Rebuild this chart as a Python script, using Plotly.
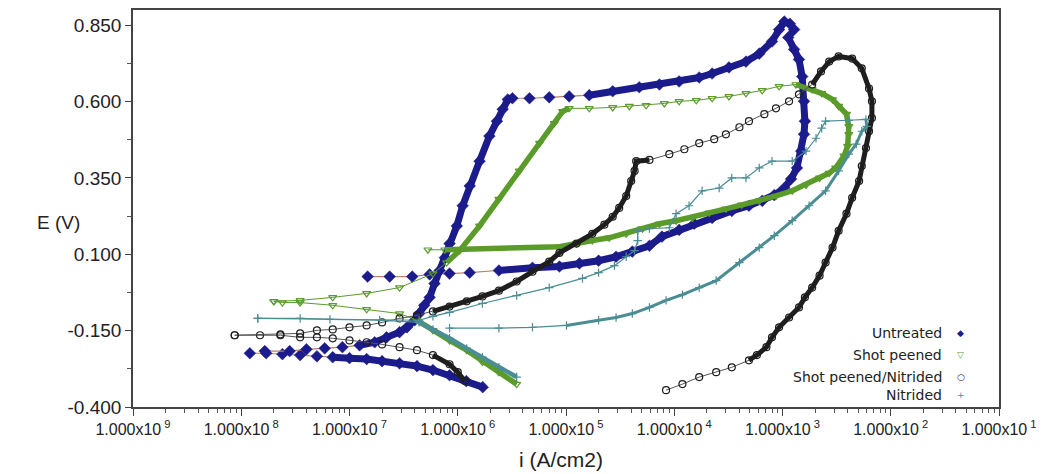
import plotly.graph_objects as go

# ---------------- data (current density i in A/cm2, potential E in V) ----------------
untreated_cath_i = [1.7e-6, 1.2e-6, 8.4e-7, 5.9e-7, 4.2e-7, 2.9e-7, 2.0e-7, 1.44e-7, 1.0e-7, 7.0e-8,
                    5.0e-8, 3.5e-8, 2.4e-8, 1.7e-8, 1.2e-8]
untreated_cath_E = [-0.335, -0.315, -0.296, -0.279, -0.266, -0.257, -0.250, -0.243, -0.240, -0.237,
                    -0.234, -0.230, -0.227, -0.224, -0.224]

untreated_anod_i = [1.65e-8, 2.8e-8, 4.0e-8, 5.9e-8, 8.6e-8, 1.24e-7, 1.71e-7, 2.2e-7, 2.9e-7, 3.4e-7,
                    4.0e-7, 4.4e-7, 4.9e-7, 5.5e-7, 6.1e-7, 6.8e-7, 7.6e-7, 8.4e-7, 9.8e-7, 1.11e-6,
                    1.29e-6, 1.59e-6, 1.96e-6, 2.3e-6, 2.6e-6, 2.9e-6, 3.2e-6, 4.6e-6, 7.0e-6, 1.07e-5,
                    1.64e-5, 2.7e-5, 4.75e-5, 7.3e-5, 1.11e-4, 1.70e-4, 2.24e-4, 3.2e-4, 4.6e-4, 6.1e-4,
                    8.0e-4, 9.3e-4, 1.04e-3, 1.17e-3, 1.28e-3, 1.13e-3, 1.28e-3, 1.42e-3, 1.52e-3, 1.58e-3,
                    1.61e-3, 1.58e-3, 1.49e-3, 1.36e-3, 1.20e-3, 1.04e-3, 8.4e-4, 6.5e-4, 4.9e-4, 3.4e-4,
                    2.24e-4, 1.53e-4, 1.11e-4, 7.7e-5, 5.9e-5, 4.1e-5, 2.9e-5, 2.0e-5, 1.33e-5, 8.7e-6,
                    4.9e-6, 2.4e-6, 1.29e-6, 8.4e-7, 5.5e-7, 3.8e-7, 2.35e-7, 1.47e-7]
untreated_anod_E = [-0.217, -0.217, -0.211, -0.208, -0.204, -0.198, -0.188, -0.172, -0.155, -0.139,
                    -0.116, -0.094, -0.067, -0.041, 0.004, 0.047, 0.089, 0.135, 0.193, 0.259,
                    0.324, 0.405, 0.487, 0.536, 0.575, 0.607, 0.611, 0.611, 0.614, 0.617,
                    0.621, 0.634, 0.647, 0.656, 0.666, 0.679, 0.692, 0.712, 0.731, 0.757,
                    0.797, 0.836, 0.862, 0.855, 0.836, 0.810, 0.771, 0.738, 0.682, 0.601,
                    0.536, 0.493, 0.438, 0.383, 0.347, 0.317, 0.294, 0.275, 0.259, 0.242,
                    0.219, 0.200, 0.180, 0.158, 0.128, 0.109, 0.092, 0.079, 0.070, 0.060,
                    0.056, 0.047, 0.040, 0.037, 0.034, 0.027, 0.027, 0.027]

shotpeened_cath_i = [3.5e-6, 2.4e-6, 1.69e-6, 1.21e-6, 8.4e-7, 5.9e-7, 4.2e-7, 2.9e-7, 1.44e-7, 7.0e-8,
                     3.5e-8, 2.4e-8, 2.0e-8]
shotpeened_cath_E = [-0.325, -0.286, -0.253, -0.214, -0.182, -0.149, -0.116, -0.094, -0.080, -0.067,
                     -0.058, -0.058, -0.054]

shotpeened_anod_i = [2.0e-8, 3.5e-8, 7.0e-8, 1.44e-7, 2.9e-7, 5.9e-7, 7.9e-7, 1.04e-6, 1.59e-6, 2.4e-6,
                     3.7e-6, 5.7e-6, 7.8e-6, 9.3e-6, 1.07e-5, 1.64e-5, 2.7e-5, 3.85e-5, 5.5e-5, 8.1e-5,
                     1.11e-4, 1.60e-4, 2.24e-4, 3.2e-4, 4.6e-4, 6.5e-4, 9.3e-4, 1.33e-3, 1.88e-3, 2.3e-3,
                     2.9e-3, 3.3e-3, 3.9e-3, 4.1e-3, 4.1e-3, 4.0e-3, 3.7e-3, 3.1e-3, 2.7e-3, 2.2e-3,
                     1.65e-3, 1.23e-3, 8.7e-4, 6.1e-4, 4.2e-4, 3.0e-4, 2.1e-4, 1.47e-4, 1.04e-4, 7.3e-5,
                     5.1e-5, 3.6e-5, 2.5e-5, 1.75e-5, 1.25e-5, 8.7e-6, 7.6e-7, 5.3e-7]
shotpeened_anod_E = [-0.054, -0.051, -0.041, -0.028, -0.009, 0.037, 0.073, 0.112, 0.193, 0.281,
                     0.373, 0.464, 0.529, 0.568, 0.578, 0.578, 0.581, 0.585, 0.588, 0.594,
                     0.601, 0.604, 0.611, 0.617, 0.627, 0.637, 0.650, 0.656, 0.640, 0.627,
                     0.607, 0.585, 0.559, 0.519, 0.493, 0.454, 0.422, 0.383, 0.366, 0.350,
                     0.327, 0.308, 0.291, 0.275, 0.262, 0.249, 0.236, 0.219, 0.210, 0.200,
                     0.184, 0.167, 0.154, 0.145, 0.135, 0.125, 0.115, 0.115]

spn_cath_i = [1.16e-6, 1.0e-6, 8.4e-7, 5.9e-7, 4.2e-7, 2.9e-7, 2.0e-7, 1.44e-7, 1.0e-7, 7.0e-8,
              5.0e-8, 3.5e-8, 2.3e-8, 1.49e-8, 8.7e-9]
spn_cath_E = [-0.315, -0.286, -0.260, -0.230, -0.214, -0.204, -0.195, -0.188, -0.182, -0.175,
              -0.172, -0.172, -0.165, -0.165, -0.165]

spn_anod_i = [8.7e-9, 2.3e-8, 3.5e-8, 5.0e-8, 7.0e-8, 1.0e-7, 1.44e-7, 2.0e-7, 2.9e-7, 4.2e-7,
              5.9e-7, 8.4e-7, 1.21e-6, 1.69e-6, 2.4e-6, 3.5e-6, 4.9e-6, 7.0e-6, 8.7e-6, 1.25e-5,
              1.75e-5, 2.26e-5, 2.7e-5, 3.1e-5, 3.6e-5, 4.0e-5, 4.3e-5, 4.45e-5, 5.9e-5, 9.0e-5,
              1.24e-4, 1.70e-4, 2.34e-4, 3.0e-4, 4.0e-4, 4.9e-4, 6.8e-4, 8.7e-4, 1.15e-3, 1.42e-3,
              1.88e-3, 2.27e-3, 2.7e-3, 3.3e-3, 4.4e-3, 5.4e-3, 6.3e-3, 6.7e-3, 6.7e-3, 6.3e-3,
              5.9e-3, 5.4e-3, 5.1e-3, 4.4e-3, 3.9e-3, 3.3e-3, 2.9e-3, 2.5e-3, 2.2e-3, 1.88e-3,
              1.61e-3, 1.42e-3, 1.15e-3, 9.3e-4, 8.0e-4, 7.1e-4, 5.8e-4, 4.9e-4, 3.4e-4, 2.44e-4,
              1.70e-4, 1.19e-4, 8.4e-5]
spn_anod_E = [-0.165, -0.162, -0.159, -0.149, -0.146, -0.139, -0.133, -0.123, -0.110, -0.100,
              -0.087, -0.071, -0.054, -0.038, -0.019, 0.011, 0.043, 0.076, 0.105, 0.135,
              0.167, 0.197, 0.223, 0.252, 0.291, 0.340, 0.373, 0.405, 0.409, 0.428,
              0.444, 0.464, 0.477, 0.493, 0.516, 0.536, 0.559, 0.578, 0.601, 0.624,
              0.656, 0.699, 0.731, 0.748, 0.741, 0.709, 0.643, 0.601, 0.546, 0.503,
              0.448, 0.389, 0.340, 0.285, 0.233, 0.177, 0.122, 0.073, 0.030, -0.009,
              -0.041, -0.074, -0.107, -0.139, -0.172, -0.204, -0.230, -0.247, -0.270, -0.286,
              -0.302, -0.325, -0.345]

nitrided_cath_i = [3.5e-6, 2.4e-6, 1.69e-6, 1.21e-6, 8.4e-7, 5.9e-7, 4.4e-7, 1.9e-7, 6.6e-8, 3.5e-8,
                   1.42e-8]
nitrided_cath_E = [-0.302, -0.270, -0.237, -0.208, -0.175, -0.146, -0.123, -0.116, -0.113, -0.110,
                   -0.110]

nitrided_anod_i = [1.42e-8, 4.4e-7, 5.9e-7, 8.4e-7, 1.69e-6, 3.5e-6, 7.0e-6, 1.42e-5, 2.0e-5, 2.8e-5,
                   3.6e-5, 4.3e-5, 4.6e-5, 4.6e-5, 5.9e-5, 9.0e-5, 1.04e-4, 1.37e-4, 1.81e-4, 2.6e-4,
                   3.4e-4, 4.6e-4, 6.1e-4, 8.0e-4, 1.23e-3, 1.65e-3, 2.04e-3, 2.3e-3, 2.5e-3, 4.1e-3,
                   5.9e-3, 6.0e-3, 5.4e-3, 4.8e-3, 4.1e-3, 3.3e-3, 2.5e-3, 1.76e-3, 1.23e-3, 8.4e-4,
                   6.1e-4, 4.0e-4, 2.44e-4, 1.70e-4, 1.19e-4, 8.4e-5, 5.9e-5, 4.1e-5, 2.9e-5, 2.0e-5,
                   1.01e-5, 4.9e-6, 2.4e-6, 8.4e-7]
nitrided_anod_E = [-0.110, -0.116, -0.103, -0.090, -0.061, -0.035, -0.009, 0.021, 0.040, 0.063,
                   0.092, 0.112, 0.145, 0.177, 0.184, 0.187, 0.233, 0.259, 0.308, 0.317,
                   0.350, 0.350, 0.383, 0.405, 0.405, 0.438, 0.480, 0.513, 0.536, 0.539,
                   0.542, 0.519, 0.503, 0.461, 0.428, 0.373, 0.308, 0.259, 0.210, 0.161,
                   0.122, 0.073, 0.014, -0.009, -0.032, -0.051, -0.074, -0.094, -0.107, -0.116,
                   -0.133, -0.139, -0.142, -0.142]

series_names = ["Untreated", "Shot peened", "Shot peened/Nitrided", "Nitrided"]
x_tick_exponents = [9, 8, 7, 6, 5, 4, 3, 2, 1]
y_tick_values = [-0.400, -0.150, 0.100, 0.350, 0.600, 0.850]

# ---------------- styles ----------------
NAVY = "#1b1b8c"
GREEN = "#5a9b2a"
BLACK = "#1e1e1e"
TEAL = "#4a8d93"
FONT = "Liberation Sans, Arial, sans-serif"
LEG_FONT = "DejaVu Sans, Verdana, sans-serif"

fig = go.Figure()


def add_branch(xs, ys, color, thin_color, symbol, msize, bands, band_w, thin_w, mline=1.2):
    fig.add_trace(go.Scatter(
        x=xs, y=ys, mode="lines+markers",
        line=dict(color=thin_color, width=thin_w),
        marker=dict(symbol=symbol, size=msize, color=color, line=dict(color=color, width=mline)),
        showlegend=False, hoverinfo="skip"))
    for a, b in bands:
        fig.add_trace(go.Scatter(
            x=xs[a:b], y=ys[a:b], mode="lines",
            line=dict(color=color, width=band_w),
            showlegend=False, hoverinfo="skip"))


# Untreated
add_branch(untreated_cath_i, untreated_cath_E, NAVY, "#b98468", "diamond", 9, [(0, 10)], 7, 1.2, 0.5)
add_branch(untreated_anod_i, untreated_anod_E, NAVY, "#b98468", "diamond", 9, [(5, 27), (30, 72)], 7, 1.2, 0.5)
# Shot peened
add_branch(shotpeened_cath_i, shotpeened_cath_E, GREEN, GREEN, "triangle-down-open", 7, [(0, 7)], 5.5, 1.0)
add_branch(shotpeened_anod_i, shotpeened_anod_E, GREEN, GREEN, "triangle-down-open", 7, [(6, 15), (27, 57)], 5.5, 1.0)
# Shot peened / Nitrided
add_branch(spn_cath_i, spn_cath_E, BLACK, "#555555", "circle-open", 7, [(0, 4)], 5, 1.0)
add_branch(spn_anod_i, spn_anod_E, BLACK, "#555555", "circle-open", 7, [(10, 29), (40, 68)], 5, 1.0)
# Nitrided
add_branch(nitrided_cath_i, nitrided_cath_E, TEAL, TEAL, "cross-thin-open", 6, [(0, 7)], 4.5, 1.2, 1.2)
add_branch(nitrided_anod_i, nitrided_anod_E, TEAL, TEAL, "cross-thin-open", 6, [(30, 51)], 3, 1.2, 1.2)

# ---------------- axes ----------------
x_vals = [10.0 ** (-e) for e in x_tick_exponents]
x_text = ["1.000x10<sup> %d</sup>" % e for e in x_tick_exponents]
x_minor = [k * 10.0 ** (-e) for e in x_tick_exponents[:-1] for k in range(2, 10)]
y_minor = [(y_tick_values[k] + y_tick_values[k + 1]) / 2 for k in range(len(y_tick_values) - 1)]

fig.update_xaxes(
    type="log", range=[-9, -1], tickmode="array", tickvals=x_vals, ticktext=x_text,
    ticks="outside", ticklen=7, tickwidth=1.2, tickcolor="#444",
    minor=dict(tickmode="array", tickvals=x_minor, ticks="outside", ticklen=4, tickwidth=1, tickcolor="#555"),
    showline=True, linecolor="#444", linewidth=1.6, mirror=True,
    showgrid=False, zeroline=False,
    tickfont=dict(family=FONT, size=16, color="#222"))
fig.update_yaxes(
    range=[-0.4, 0.9], tickmode="array", tickvals=y_tick_values,
    ticktext=["%.3f" % v for v in y_tick_values],
    ticks="outside", ticklen=6, tickwidth=1.2, tickcolor="#444",
    minor=dict(tickmode="array", tickvals=y_minor, ticks="outside", ticklen=4, tickwidth=1, tickcolor="#555"),
    showline=True, linecolor="#444", linewidth=1.6, mirror=True,
    showgrid=False, zeroline=False,
    tickfont=dict(family=FONT, size=19, color="#222"))

annotations = [
    dict(text="E (V)", x=-0.113, y=0.4637, xref="paper", yref="paper", showarrow=False,
         font=dict(family=FONT, size=19, color="#222")),
    dict(text="i (A/cm2)", x=0.4937, y=-0.1328, xref="paper", yref="paper", showarrow=False,
         yanchor="middle", font=dict(family=FONT, size=21, color="#222")),
]

leg_y = [0.1855, 0.1303, 0.0752, 0.0301]
leg_sym = ["\u25c6", "\u25bd", "\u25cb", "+"]
leg_col = [NAVY, GREEN, BLACK, TEAL]
for name, yy, sym, col in zip(series_names, leg_y, leg_sym, leg_col):
    annotations.append(dict(text=name, x=0.9366, y=yy, xref="paper", yref="paper", showarrow=False,
                            xanchor="right", yanchor="middle",
                            font=dict(family=LEG_FONT, size=14, color="#222")))
    annotations.append(dict(text=sym, x=0.956, y=yy, xref="paper", yref="paper", showarrow=False,
                            xanchor="center", yanchor="middle",
                            font=dict(family=LEG_FONT, size=9, color=col)))

fig.update_layout(
    width=1045, height=474,
    margin=dict(l=133, r=45, t=8, b=67),
    paper_bgcolor="white", plot_bgcolor="white",
    showlegend=False,
    annotations=annotations)

fig.write_html("out.html")
